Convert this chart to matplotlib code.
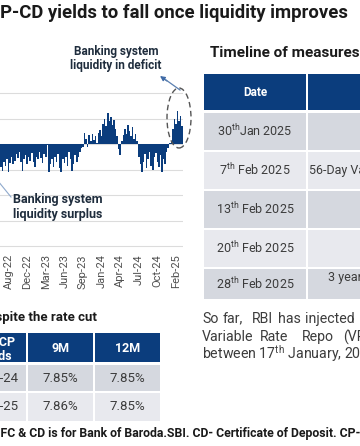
import matplotlib
matplotlib.use("Agg")
import matplotlib.pyplot as plt
import numpy as np
from matplotlib.patches import Ellipse, Rectangle

plt.rcParams["font.family"] = ["Roboto", "DejaVu Sans"]
plt.rcParams["mathtext.fontset"] = "custom"
plt.rcParams["mathtext.rm"] = "Roboto"
plt.rcParams["mathtext.it"] = "Roboto"

W, H = 360, 446
NAVY = "#0b3d7d"
ROW_DARK = "#d5d8df"
ROW_LIGHT = "#e8e9ee"
TXT = "#3c3c3c"

# net banking system liquidity (lakh crore, + = deficit), periodic readings
liquidity = [
    -0.9, -1.05, -0.7, -0.85, -0.6, -1.1, -0.75, -0.5, -0.8, -0.65, -0.4,
    -0.55, -0.3, -0.7, -1.05, -0.6, -0.45, -0.8, -0.5, -0.65, -0.35, -0.7,
    -0.9, -0.5, -0.6, -0.3, -0.55, -0.75, -0.4, -0.5,
    -0.05,
    -1.1, -0.8, -0.6, -0.9, -0.5, -0.7, -0.4, -0.95, -1.1, -0.6, -0.75,
    -0.5, -0.85, -0.3, -0.6, -1.05, -0.8, -0.45, -0.7, -0.5,
    -0.3, -0.15, -0.1,
    0.45, 0.2, -0.1, 0.35, 0.1, 0.4, 0.15, 0.3, 0.05, 0.45, 0.55, 0.3,
    0.8, 1.0, 0.7, 1.2, 0.9, 1.05, 0.75, 0.95, 0.6,
    0.3, -0.2, -0.45, 0.1, 0.35,
    0.6, 0.4, 0.75, 0.5, 0.3, 0.65, 0.2, 0.4, 0.1,
    -0.5, -0.8, -1.1, -0.7, -0.4, -0.95, -0.6, -0.3, -0.85, -1.0, -0.5,
    -0.35, -0.7, -0.9, -0.45, -1.1, -0.6, -0.8, -0.3, -0.15,
    0.05, 0.1,
    0.6, 1.0, 0.8, 1.28, 0.9, 1.1, 0.7,
]
tick_labels = ["Aug-22", "Dec-22", "Mar-23", "Jun-23", "Sep-23",
               "Jan-24", "Apr-24", "Jul-24", "Oct-24", "Feb-25"]

cp_rows = ["Feb-24", "Feb-25"]
cp_cols = ["9M", "12M"]
cp_yields = [["7.85%", "7.85%"], ["7.86%", "7.85%"]]

timeline_dates = [r"30$^{\mathrm{th}}$Jan 2025", r"7$^{\mathrm{th}}$ Feb 2025",
                  r"13$^{\mathrm{th}}$ Feb 2025", r"20$^{\mathrm{th}}$ Feb 2025",
                  r"28$^{\mathrm{th}}$ Feb 2025"]
timeline_measures = ["", "56-Day Variable Rate Repo auction", "", "",
                     "3 years USD/INR buy/sell swap"]


def fx(x):
    return x / W


def fy(y):
    return 1 - y / H


def rect(fig, x0, y0, x1, y1, color):
    fig.add_artist(Rectangle((fx(x0), fy(y1)), fx(x1) - fx(x0), fy(y0) - fy(y1),
                             transform=fig.transFigure, facecolor=color,
                             edgecolor="none"))


def text(fig, x, y, s, **kw):
    kw.setdefault("va", "center")
    return fig.text(fx(x), fy(y), s, **kw)


def text_width(fig, s, **kw):
    # width in pixels of a string, used to push a cropped prefix off the left edge
    t = fig.text(0, 0, s, **kw)
    w = t.get_window_extent(renderer=fig.canvas.get_renderer()).width
    t.remove()
    return w


fig = plt.figure(figsize=(W / 100, H / 100), dpi=100)

# ---- liquidity chart
px_per_unit = (246 - 93) / 6
top_px = 93 - 0.1 * px_per_unit
bot_px = 246 + 0.1 * px_per_unit
ax = fig.add_axes([0, fy(bot_px), fx(183), fy(top_px) - fy(bot_px)])
x = np.arange(len(liquidity))
ax.bar(x, liquidity, width=1.0, color=NAVY, edgecolor="none", zorder=2)
ax.set_xlim(-0.5, len(liquidity) - 0.5)
ax.set_ylim(-4.1, 2.1)
ax.set_yticks(np.arange(-4, 3))
ax.yaxis.grid(True, color="#dcdcdc", lw=0.8, zorder=0)
ax.set_yticklabels([])
ax.tick_params(axis="y", length=0)
ax.set_xticks(5 + 12 * np.arange(len(tick_labels)))
ax.set_xticklabels(tick_labels, rotation=90, fontsize=8, color="#505050")
ax.tick_params(axis="x", length=0, pad=4)
for s in ax.spines.values():
    s.set_visible(False)

text(fig, 116, 58.5, "Banking system\nliquidity in deficit", ha="center",
     fontsize=8.5, color="#1f2d3d", weight="semibold", linespacing=1.15)
fig.add_artist(Ellipse((fx(179), fy(118)), fx(24), 60 / H, transform=fig.transFigure,
                       fill=False, ls=(0, (4, 2.5)), lw=1.0, edgecolor="#555555"))
fig.add_artist(plt.Line2D([fx(180), fx(166)], [fy(90), fy(80)],
                          transform=fig.transFigure, color="#5a7fb0", lw=0.9))
ax.annotate("", xy=(fx(160), fy(76)), xycoords="figure fraction",
            xytext=(fx(167), fy(81)), textcoords="figure fraction",
            arrowprops=dict(arrowstyle="-|>", color="#3f6aa6", lw=0.9,
                            mutation_scale=7, shrinkA=0, shrinkB=0))
text(fig, 13, 206.5, "Banking system\nliquidity surplus", ha="left",
     fontsize=9, color="#1f2d3d", weight="semibold", linespacing=1.2)
fig.add_artist(plt.Line2D([fx(11), fx(-2)], [fy(197), fy(181)],
                          transform=fig.transFigure, color="#8fa9cc", lw=0.8))

# ---- title (leading "C" sits just off the cropped left edge)
title_kw = dict(fontsize=13.3, weight="bold", color="#1a1a1a")
text(fig, -text_width(fig, "C", **title_kw) + 0.5, 13,
     "CP-CD yields to fall once liquidity improves", ha="left", **title_kw)

# ---- CP yields table
text(fig, 97, 318, "CP yields remain elevated despite the rate cut", ha="right",
     fontsize=9.5, weight="bold", color="#1a1a1a")
col_edges = [(-60, 26), (27.5, 93), (94.5, 160)]
rect(fig, -60, 333, 26, 362, NAVY)
for (c0, c1), lab in zip(col_edges[1:], cp_cols):
    rect(fig, c0, 333, c1, 362, NAVY)
    text(fig, (c0 + c1) / 2, 348, lab, ha="center", fontsize=9,
         weight="bold", color="white")
text(fig, 15, 342, "Tenor of CP", ha="right", fontsize=9, weight="bold", color="white")
text(fig, 12, 356, "Yields", ha="right", fontsize=9, weight="bold", color="white")
row_spans = [(365, 391), (393, 421)]
for (r0, r1), lab, vals, col in zip(row_spans, cp_rows, cp_yields, [ROW_DARK, ROW_LIGHT]):
    for c0, c1 in col_edges:
        rect(fig, c0, r0, c1, r1, col)
    ym = (r0 + r1) / 2
    text(fig, 18.5, ym, lab, ha="right", fontsize=9.5, color=TXT)
    for (c0, c1), v in zip(col_edges[1:], vals):
        text(fig, (c0 + c1) / 2, ym, v, ha="center", fontsize=9.5, color=TXT)

# ---- timeline table
text(fig, 210, 53, "Timeline of measures taken by RBI", ha="left",
     fontsize=11, weight="bold", color="#1a1a1a")
rect(fig, 204, 74, 306, 110, NAVY)
rect(fig, 308, 74, 420, 110, NAVY)
text(fig, 255, 92, "Date", ha="center", fontsize=8.5, weight="bold", color="white")
t_rows = [(113, 150), (152, 189), (191, 228), (230, 267), (269, 299)]
for i, ((r0, r1), d, m) in enumerate(zip(t_rows, timeline_dates, timeline_measures)):
    col = ROW_DARK if i % 2 == 0 else ROW_LIGHT
    rect(fig, 204, r0, 306, r1, col)
    rect(fig, 308, r0, 420, r1, col)
    text(fig, 255, (r0 + r1) / 2, d, ha="center", fontsize=9, color=TXT)
    if m:
        ym = (r0 + r1) / 2 if i != 4 else r0 + 8
        xm = 309 if i != 4 else 328
        text(fig, xm, ym, m, ha="left", fontsize=9, color=TXT)

# ---- paragraph (justified lines)
para_kw = dict(ha="left", fontsize=10.2, color=TXT)
line1 = [("So", 202), ("far,", 223), ("RBI", 252), ("has", 278), ("injected", 305)]
line2 = [("Variable", 202), ("Rate", 260), ("Repo", 302), ("(VRR)", 343)]
for word, xw in line1:
    text(fig, xw, 319, word, **para_kw)
for word, xw in line2:
    text(fig, xw, 337, word, **para_kw)
text(fig, 202, 354, r"between 17$^{\mathrm{th}}$ January, 2025 and", **para_kw)

# ---- footnote
foot_kw = dict(fontsize=8.8, weight="bold", color="#1a1a1a")
text(fig, -text_width(fig, "HD", **foot_kw) + 1.0, 433,
     "HDFC & CD is for Bank of Baroda.SBI. CD- Certificate of Deposit. "
     "CP- Commercial Paper", ha="left", **foot_kw)

fig.savefig("out.png", dpi=100)
